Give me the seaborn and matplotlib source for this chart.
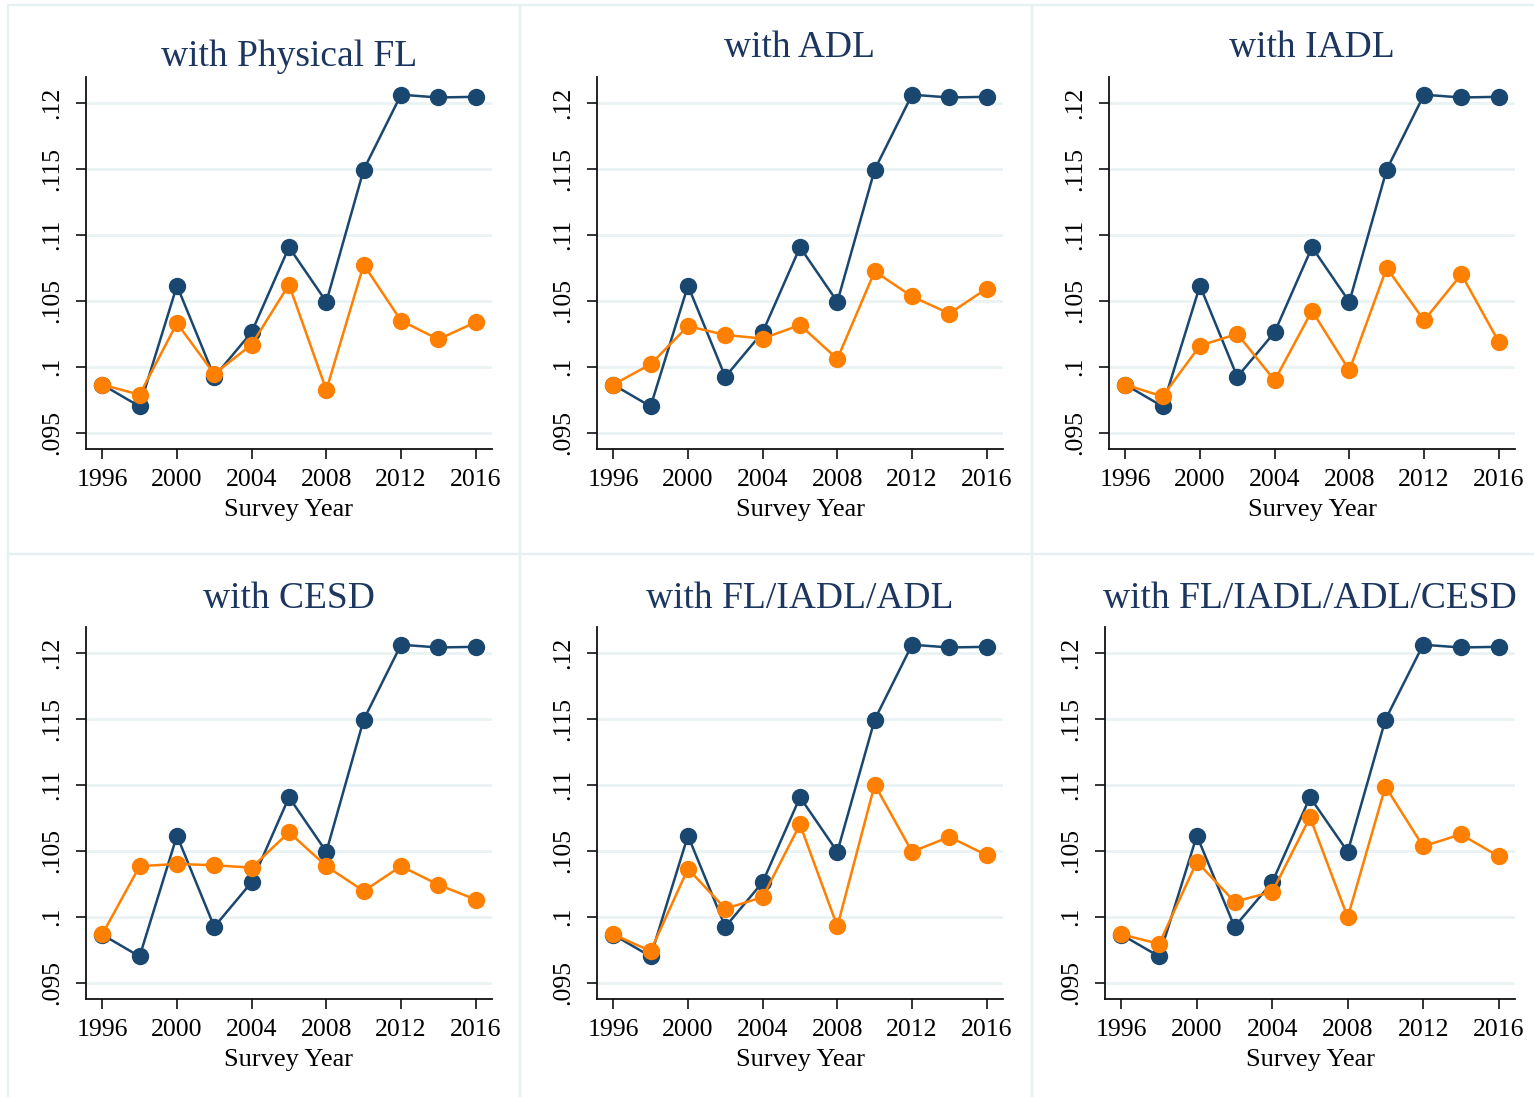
import pandas as pd
import seaborn as sns
import matplotlib.pyplot as plt
from matplotlib.patches import Rectangle

sns.set_style('ticks')
plt.rcParams['font.family'] = ['Liberation Serif', 'DejaVu Serif']

# data
years = [1996, 1998, 2000, 2002, 2004, 2006, 2008, 2010, 2012, 2014, 2016]
baseline = [.09865, .0970, .10614, .09924, .10262, .10905, .10492, .11492, .12059, .12038, .12043]

adj_physical_fl = [.09865, .09789, .1033, .09946, .10168, .10622, .09824, .10773, .10349, .10208, .10338]
adj_adl = [.09865, .10019, .10308, .10241, .10214, .10316, .1006, .10722, .10532, .10403, .10592]
adj_iadl = [.09865, .09776, .1016, .10249, .09897, .10424, .09973, .10749, .10351, .1070, .10189]
adj_cesd = [.09867, .10383, .1040, .1039, .10372, .1064, .10383, .10195, .10383, .10243, .1013]
adj_fl_iadl_adl = [.09867, .09741, .10364, .10061, .10149, .10699, .09927, .1100, .10492, .10605, .10466]
adj_all = [.09867, .09795, .10417, .10114, .10189, .10753, .09996, .10986, .10533, .10624, .10458]

titles = ['with Physical FL', 'with ADL', 'with IADL',
          'with CESD', 'with FL/IADL/ADL', 'with FL/IADL/ADL/CESD']
adjusted = [adj_physical_fl, adj_adl, adj_iadl, adj_cesd, adj_fl_iadl_adl, adj_all]

yticks = [.095, .1, .105, .11, .115, .12]
ytick_labels = ['.095', '.1', '.105', '.11', '.115', '.12']
xticks = [1996, 2000, 2004, 2008, 2012, 2016]

navy = '#1a476f'
orange = '#ff7f00'
grid_col = '#eaf2f3'

W, H = 1534, 1097
fig = plt.figure(figsize=(W / 100, H / 100), dpi=100)
fig.patch.set_facecolor('white')

# panel frames (graph combine look)
col_edges = [8, 519.5, 1031.5, 1545]
row_edges = [5, 553.5, 1105]
for r in range(2):
    for c in range(3):
        x0, x1 = col_edges[c], col_edges[c + 1]
        y0, y1 = row_edges[r], row_edges[r + 1]
        fig.add_artist(Rectangle((x0 / W, 1 - y1 / H), (x1 - x0) / W, (y1 - y0) / H,
                                 transform=fig.transFigure, fill=False,
                                 edgecolor='#e6eff1', lw=1.6))

# axes boxes in pixels: left, right, top, bottom
boxes = [(86, 492, 77, 449), (597, 1003, 77, 449), (1109, 1515, 77, 449),
         (86, 492, 627, 999), (597, 1003, 627, 999), (1105, 1515, 627, 999)]
# Stata sits the title box bottom on the plot, so a descender lowers the title
title_pads = [8, 14.5, 14.5, 14, 14, 14]

for i, (title, adj) in enumerate(zip(titles, adjusted)):
    l, r, t, b = boxes[i]
    ax = fig.add_axes([l / W, 1 - b / H, (r - l) / W, (b - t) / H])
    df = pd.DataFrame({
        'year': years * 2,
        'value': baseline + adj,
        'series': ['base'] * len(years) + ['adj'] * len(years),
    })
    sns.lineplot(data=df, x='year', y='value', hue='series',
                 hue_order=['base', 'adj'],
                 palette={'base': navy, 'adj': orange},
                 marker='o', markersize=12.5, markeredgewidth=0,
                 linewidth=1.8, legend=False, sort=False, ax=ax)

    ax.set_xlim(1995.13, 2016.87)
    ax.set_ylim(.09378, .12193)
    ax.set_yticks(yticks)
    ax.set_yticklabels(ytick_labels, rotation=90, va='center')
    ax.set_xticks(xticks)
    ax.set_xticklabels([str(x) for x in xticks])
    ax.grid(axis='y', color=grid_col, lw=2)
    ax.set_axisbelow(True)
    for s in ['top', 'right']:
        ax.spines[s].set_visible(False)
    for s in ['left', 'bottom']:
        ax.spines[s].set_color('#111111')
        ax.spines[s].set_linewidth(1.3)
    ax.tick_params(axis='both', direction='out', length=7.5, width=1.2,
                   color='#111111', labelsize=18.5, labelcolor='black')
    ax.tick_params(axis='y', pad=9)
    ax.tick_params(axis='x', pad=7)
    ax.set_xlabel('Survey Year', fontsize=19, labelpad=6, color='black')
    ax.set_ylabel('')
    ax.set_title(title, fontsize=27, color='#1c3660', pad=title_pads[i])

fig.savefig('out.png', dpi=100, facecolor='white')
